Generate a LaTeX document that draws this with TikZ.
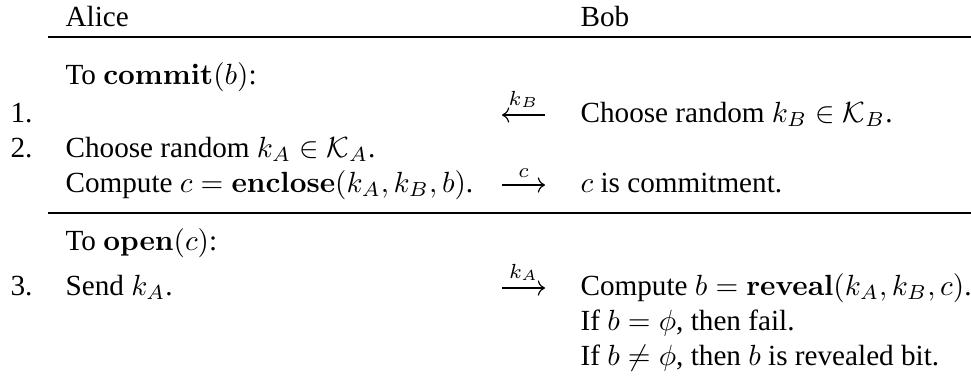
\documentclass[tikz,border=0pt]{standalone}
\usepackage[no-math]{fontspec}
\setmainfont{Liberation Serif}
\usepackage{amsmath}
\usetikzlibrary{arrows.meta}

\begin{document}
\begin{tikzpicture}[
        x=0.3425pt, y=-0.3425pt,
        txt/.style={anchor=base west, inner sep=0pt},
        rule/.style={line width=0.4pt},
        msg/.style={-{Computer Modern Rightarrow}, line width=0.4pt},
        lbl/.style={above=2.2pt, inner sep=0pt}
      ]
        \useasboundingbox (0,0) rectangle (971,377);

        % header
        \node[txt] (alice) at (65,26) {Alice};
        \node[txt] (bob) at (580,26) {Bob};
        \coordinate (top l) at (48,37);
        \coordinate (top r) at (971,37);
        \draw[rule] (top l) -- (top r);

        % commit phase
        \node[txt] (commit) at (65,84) {To $\mathbf{commit}(b)$:};
        \node[txt] (n1) at (10,122) {1.};
        \node[txt] (bob1) at (580,122) {Choose random $k_B \in \mathcal{K}_B$.};
        \node[txt] (n2) at (10,157) {2.};
        \node[txt] (alice2) at (65,157) {Choose random $k_A \in \mathcal{K}_A$.};
        \node[txt] (alice2b) at (65,192)
          {Compute $c = \mathbf{enclose}(k_A, k_B, b)$.};
        \node[txt] (bob2) at (580,192) {$c$ is commitment.};

        \coordinate (m1 l) at (502,115);
        \coordinate (m1 r) at (545,115);
        \coordinate (m2 l) at (502,185);
        \coordinate (m2 r) at (545,185);
        \draw[msg] (m1 r) -- node[lbl] {$\scriptstyle k_B$} (m1 l);
        \draw[msg] (m2 l) -- node[lbl] {$\scriptstyle c$} (m2 r);

        \coordinate (mid l) at (48,213);
        \coordinate (mid r) at (971,213);
        \draw[rule] (mid l) -- (mid r);

        % open phase
        \node[txt] (open) at (65,250) {To $\mathbf{open}(c)$:};
        \node[txt] (n3) at (10,295) {3.};
        \node[txt] (alice3) at (65,295) {Send $k_A$.};
        \node[txt] (bob3) at (580,295)
          {Compute $b = \mathbf{reveal}(k_A, k_B, c)$.};
        \node[txt] (bob3b) at (580,330) {If $b = \phi$, then fail.};
        \node[txt] (bob3c) at (580,365)
          {If $b \neq \phi$, then $b$ is revealed bit.};

        \coordinate (m3 l) at (502,288);
        \coordinate (m3 r) at (545,288);
        \draw[msg] (m3 l) -- node[lbl] {$\scriptstyle k_A$} (m3 r);
      \end{tikzpicture}
\end{document}
